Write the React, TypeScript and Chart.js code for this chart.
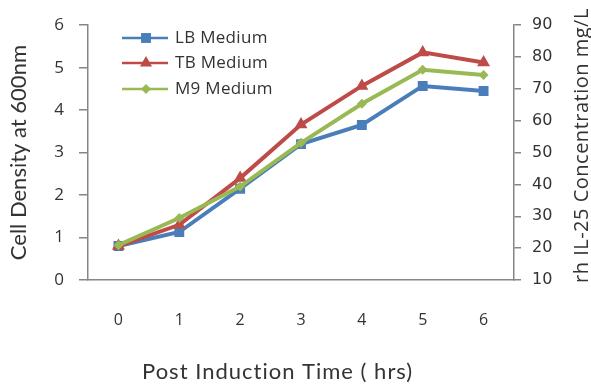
import React, { useEffect, useRef } from "react";
import { Chart, registerables } from "chart.js";

Chart.register(...registerables);

const categories = ["0", "1", "2", "3", "4", "5", "6"];
const lbMedium = [0.8, 1.13, 2.15, 3.2, 3.65, 4.57, 4.45];
const tbMedium = [0.8, 1.3, 2.4, 3.66, 4.57, 5.36, 5.12];
const m9Medium = [0.82, 1.46, 2.2, 3.23, 4.15, 4.95, 4.83];
const seriesNames = ["LB Medium", "TB Medium", "M9 Medium"];
const leftTicks = [0, 1, 2, 3, 4, 5, 6];
const rightTicks = [10, 20, 30, 40, 50, 60, 70, 80, 90];
const xTitle = "Post Induction Time ( hrs)";
const yTitle = "Cell Density at 600nm";
const y2Title = "rh IL-25 Concentration mg/L";

const COLORS = ["#4A7EBB", "#BE4B48", "#98B954"];
const STYLES = ["rect", "triangle", "rectRot"];
const AXIS = "#868686";
const TEXT = "#333333";
const FONT = "'Open Sans', sans-serif";
const TITLE_FONT = "Lato, sans-serif";

function drawMarker(ctx: CanvasRenderingContext2D, style: string, x: number, y: number, r: number) {
  ctx.beginPath();
  if (style === "rect") {
    const s = Math.SQRT1_2 * r;
    ctx.rect(x - s, y - s, 2 * s, 2 * s);
  } else if (style === "triangle") {
    ctx.moveTo(x, y - r);
    ctx.lineTo(x + r * 0.866, y + r * 0.5);
    ctx.lineTo(x - r * 0.866, y + r * 0.5);
    ctx.closePath();
  } else {
    ctx.moveTo(x, y - r);
    ctx.lineTo(x + r, y);
    ctx.lineTo(x, y + r);
    ctx.lineTo(x - r, y);
    ctx.closePath();
  }
  ctx.fill();
}

const legendPlugin = {
  id: "customLegend",
  afterDraw(chart: any) {
    const ctx = chart.ctx as CanvasRenderingContext2D;
    const rows = [38, 63, 89];
    const radii = [7, 7, 5];
    ctx.save();
    seriesNames.forEach((name, i) => {
      const y = rows[i];
      ctx.strokeStyle = COLORS[i];
      ctx.lineWidth = 2.5;
      ctx.beginPath();
      ctx.moveTo(122, y);
      ctx.lineTo(168, y);
      ctx.stroke();
      ctx.fillStyle = COLORS[i];
      drawMarker(ctx, STYLES[i], 146, y, radii[i]);
      ctx.fillStyle = TEXT;
      ctx.font = `17px ${FONT}`;
      ctx.textBaseline = "middle";
      ctx.textAlign = "left";
      (ctx as any).letterSpacing = "0.3px";
      ctx.fillText(name, 175, y);
    });
    const area = chart.chartArea;
    // x axis title
    ctx.font = `22px ${TITLE_FONT}`;
    (ctx as any).letterSpacing = "1px";
    ctx.textAlign = "left";
    ctx.textBaseline = "middle";
    ctx.fillStyle = TEXT;
    ctx.fillText(xTitle, 142, 372);
    // right axis title, reading bottom to top
    ctx.translate(582, area.bottom + 3);
    ctx.rotate(-Math.PI / 2);
    ctx.font = `20px ${FONT}`;
    (ctx as any).letterSpacing = "0.5px";
    ctx.fillText(y2Title, 0, 0);
    ctx.restore();
  },
};

export default function App() {
  const ref = useRef<HTMLCanvasElement | null>(null);
  useEffect(() => {
    if (!ref.current) return;
    const data = [lbMedium, tbMedium, m9Medium];
    const radii = [7, 7.5, 5];
    const chart = new Chart(ref.current, {
      type: "line",
      data: {
        labels: categories,
        datasets: seriesNames.map((name, i) => ({
          label: name,
          data: data[i],
          borderColor: COLORS[i],
          backgroundColor: COLORS[i],
          borderWidth: 4,
          pointStyle: STYLES[i] as any,
          pointRadius: radii[i],
          pointBorderWidth: 0,
          tension: 0,
          order: 2 - i,
          yAxisID: "y",
        })),
      },
      options: {
        responsive: false,
        animation: false,
        layout: { padding: { top: 22, right: 0, left: 0, bottom: 0 } },
        plugins: { legend: { display: false }, tooltip: { enabled: false } },
        scales: {
          x: {
            type: "category",
            offset: true,
            grid: { display: false, drawTicks: false },
            border: { display: true, color: AXIS, width: 1.5 },
            ticks: { color: TEXT, font: { family: FONT, size: 16 }, padding: 31 },
            title: { display: false },
            afterFit(scale: any) {
              scale.height = 104;
            },
          },
          y: {
            position: "left",
            min: 0,
            max: 6,
            afterBuildTicks(scale: any) {
              scale.ticks = leftTicks.map((v) => ({ value: v }));
            },
            grid: { drawOnChartArea: false, drawTicks: true, tickLength: 9, color: AXIS, lineWidth: 1.5 },
            border: { display: true, color: AXIS, width: 1.5 },
            ticks: { color: TEXT, font: { family: FONT, size: 17 }, padding: 15 },
            title: {
              display: true,
              text: yTitle,
              color: TEXT,
              font: { family: TITLE_FONT, size: 22 },
              padding: { top: 6, bottom: 0 },
            },
            afterFit(scale: any) {
              scale.width = 88;
            },
          },
          y2: {
            position: "right",
            min: 10,
            max: 90,
            afterBuildTicks(scale: any) {
              scale.ticks = rightTicks.map((v) => ({ value: v }));
            },
            grid: { drawOnChartArea: false, drawTicks: true, tickLength: 7, color: AXIS, lineWidth: 1.5 },
            border: { display: true, color: AXIS, width: 1.5 },
            ticks: { color: TEXT, font: { family: "'DejaVu Sans', sans-serif", size: 16 }, padding: 11 },
            title: { display: false },
            afterFit(scale: any) {
              scale.width = 77;
            },
          },
        },
      },
      plugins: [legendPlugin],
    });
    return () => chart.destroy();
  }, []);

  return (
    <div style={{ position: "fixed", left: 0, top: 0, width: 591, height: 384, background: "#fff" }}>
      <canvas ref={ref} width={591} height={384} style={{ display: "block" }} />
    </div>
  );
}
